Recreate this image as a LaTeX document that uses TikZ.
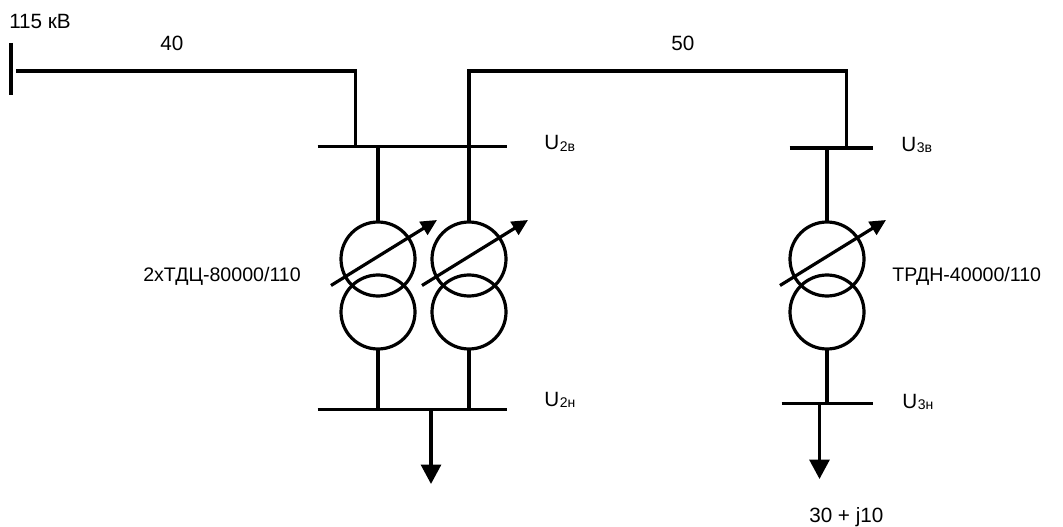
\documentclass[tikz,border=0pt]{standalone}
\usepackage{fontspec}
\setmainfont{Liberation Sans}
\usetikzlibrary{arrows.meta}
\tikzset{
 wire/.style={line width=2.4pt},
 bus/.style={line width=2.4pt},
 wind/.style={circle,draw,line width=2.4pt,minimum size=55.5pt,inner sep=0pt,outer sep=0pt},
 reg/.style={line width=2.4pt,-{Triangle[length=12pt,width=11.25pt]}},
 load/.style={line width=2.4pt,-{Triangle[length=14.6pt,width=15pt]}},
 lbl/.style={inner sep=0pt,anchor=base west,font=\fontsize{15.5pt}{18pt}\selectfont},
 tlbl/.style={lbl,font=\fontsize{14.7pt}{18pt}\selectfont}
}
\newcommand{\usub}[1]{U\kern0.5pt\raisebox{-0.8pt}{\fontsize{10.5pt}{12pt}\selectfont #1}}
\begin{document}
\begin{tikzpicture}[x=0.75pt,y=-0.75pt]
\useasboundingbox (0,0) rectangle (1063,527);
\fill[white] (0,0) rectangle (1063,527);
% source bar and first line
\coordinate (s1) at (11,43); \coordinate (s2) at (11,95);
\draw[bus] (s1) -- (s2);
\coordinate (l1s) at (16,71); \coordinate (l1a) at (355.5,71); \coordinate (b2a) at (355.5,146.5);
\draw[wire] (l1s) -- (l1a) -- (b2a);
% HV bus of substation 2
\coordinate (b2l) at (317.5,146.5); \coordinate (b2r) at (507,146.5);
\draw[bus] (b2l) -- (b2r);
% second line
\coordinate (l2a) at (469,146.5); \coordinate (l2b) at (469,71); \coordinate (l2c) at (846.5,71); \coordinate (b3a) at (846.5,148);
\draw[wire] (l2a) -- (l2b) -- (l2c) -- (b3a);
% HV bus of substation 3
\coordinate (b3l) at (789.5,148); \coordinate (b3r) at (872.5,148);
\draw[bus] (b3l) -- (b3r);
% transformers
\node[wind] (t1u) at (378,259) {};
\node[wind] (t1l) at (378,312) {};
\node[wind] (t2u) at (469,259) {};
\node[wind] (t2l) at (469,312) {};
\node[wind] (t3u) at (827,259) {};
\node[wind] (t3l) at (827,312) {};
\coordinate (b2t1) at (378,146.5); \coordinate (b2t2) at (469,146.5);
\coordinate (b2n1) at (378,409.5); \coordinate (b2n2) at (469,409.5);
\draw[wire] (b2t1) -- (t1u.north);
\draw[wire] (b2t2) -- (t2u.north);
\draw[wire] (t1l.south) -- (b2n1);
\draw[wire] (t2l.south) -- (b2n2);
\coordinate (b2nl) at (317.5,409.5); \coordinate (b2nr) at (507,409.5);
\draw[bus] (b2nl) -- (b2nr);
\coordinate (b3t) at (827,148); \coordinate (b3n) at (827,403.5);
\draw[wire] (b3t) -- (t3u.north);
\draw[wire] (t3l.south) -- (b3n);
\coordinate (b3nl) at (781.5,403.5); \coordinate (b3nr) at (872.5,403.5);
\draw[bus] (b3nl) -- (b3nr);
% regulators
\coordinate (r1a) at (331,285.5); \coordinate (r1b) at (437,220);
\coordinate (r2a) at (422,285.5); \coordinate (r2b) at (528,220);
\coordinate (r3a) at (780,285.5); \coordinate (r3b) at (886,220);
\draw[reg] (r1a) -- (r1b);
\draw[reg] (r2a) -- (r2b);
\draw[reg] (r3a) -- (r3b);
% loads
\coordinate (d1a) at (431,409.5); \coordinate (d1b) at (431,484);
\coordinate (d2a) at (819.5,403.5); \coordinate (d2b) at (819.5,479);
\draw[load] (d1a) -- (d1b);
\draw[load] (d2a) -- (d2b);
% text
\node[lbl] (t115) at (9,28.5) {115 кВ};
\node[lbl] (t40) at (160,50.5) {40};
\node[lbl] (t50) at (671,50.5) {50};
\node[tlbl] (tt1) at (143,281.5) {2хТДЦ-80000/110};
\node[tlbl] (tt3) at (892,281.5) {ТРДН-40000/110};
\node[lbl] (u2v) at (544,150) {\usub{2в}};
\node[lbl] (u3v) at (901,151.5) {\usub{3в}};
\node[lbl] (u2n) at (544,406.5) {\usub{2н}};
\node[lbl] (u3n) at (902,408) {\usub{3н}};
\node[lbl] (pq) at (809,522.5) {30 + j10};
\end{tikzpicture}
\end{document}
